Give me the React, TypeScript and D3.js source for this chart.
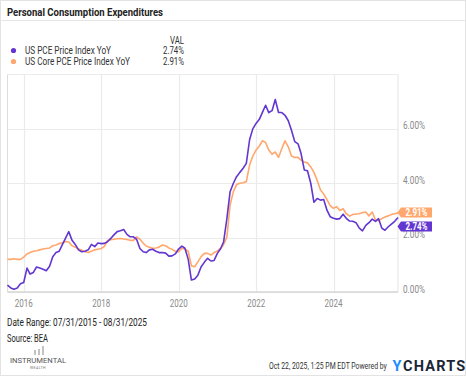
import React from "react";
import * as d3 from "d3";

const startDate = new Date(2015, 6, 31);
const endDate = new Date(2025, 7, 31);

const pce = [
  0.25, 0.15, 0.1, 0.15, 0.3, 0.35,
  0.88, 0.66, 0.72, 0.92, 0.88, 0.84,
  0.78, 0.95, 1.3, 1.45, 1.5, 1.75,
  2.0, 2.22, 1.9, 1.75, 1.55, 1.48,
  1.5, 1.55, 1.75, 1.67, 1.8, 1.78,
  1.79, 1.85, 1.97, 2.1, 2.22, 2.25,
  2.3, 2.12, 2.03, 2.03, 1.94, 1.6,
  1.48, 1.45, 1.55, 1.57, 1.5, 1.45,
  1.45, 1.43, 1.32, 1.33, 1.4, 1.58,
  1.69, 1.61, 1.2, 0.44, 0.48, 0.62,
  0.93, 1.1, 1.24, 1.14, 1.16, 1.42,
  1.6, 1.85, 2.71, 3.69, 4.0, 4.24,
  4.4, 4.55, 4.73, 5.6, 6.0, 6.2,
  6.35, 6.6, 6.87, 6.6, 6.67, 7.08,
  6.6, 6.6, 6.5, 6.3, 5.95, 5.53,
  5.45, 5.1, 4.49, 4.46, 4.0, 3.3,
  3.44, 3.38, 3.4, 3.01, 2.77, 2.71,
  2.68, 2.7, 2.86, 2.71, 2.61, 2.6,
  2.55, 2.35, 2.25, 2.45, 2.55, 2.68,
  2.6, 2.7, 2.35, 2.27, 2.4, 2.5,
  2.6, 2.74,
];

const corePce = [
  1.2, 1.2, 1.22, 1.2, 1.2, 1.28,
  1.4, 1.45, 1.5, 1.52, 1.55, 1.58,
  1.6, 1.62, 1.7, 1.73, 1.78, 1.81,
  1.86, 1.84, 1.7, 1.65, 1.58, 1.54,
  1.48, 1.45, 1.5, 1.55, 1.57, 1.6,
  1.68, 1.89, 1.92, 1.94, 1.96, 1.97,
  1.95, 1.93, 1.9, 1.9, 2.03, 1.94,
  1.8, 1.69, 1.65, 1.61, 1.62, 1.65,
  1.73, 1.7, 1.62, 1.57, 1.5, 1.48,
  1.61, 1.58, 1.5, 0.96, 0.93, 1.11,
  1.3, 1.42, 1.42, 1.36, 1.45, 1.51,
  1.6, 1.75, 2.03, 3.2, 3.69, 3.95,
  4.0, 4.02, 4.06, 4.67, 5.0, 5.22,
  5.37, 5.56, 5.5, 5.22, 5.07, 5.15,
  4.95, 5.28, 5.56, 5.34, 5.0, 4.95,
  4.95, 4.85, 4.78, 4.75, 4.6, 4.4,
  4.1, 3.75, 3.6, 3.4, 3.18, 3.08,
  3.14, 3.0, 3.06, 2.88, 2.79, 2.85,
  2.87, 2.88, 2.92, 2.94, 2.8, 2.94,
  2.65, 2.62, 2.7, 2.76, 2.8, 2.85,
  2.88, 2.91,
];

// month-end dates Jul 2015 .. Aug 2025
const months = pce.map((_, i) => new Date(2015, 7 + i, 0));

const yTicks = [0, 2, 4, 6];
const xTickYears = [2016, 2018, 2020, 2022, 2024];

const seriesNames = ["US PCE Price Index YoY", "US Core PCE Price Index YoY"];
const seriesColors = ["#6236d0", "#ffa76c"];

const FONT = "Roboto, 'Noto Sans', Arial, sans-serif";

export default function App() {
  const W = 466;
  const H = 376;
  const left = 7.5;
  const right = 398;
  const top = 74.5;
  const bottom = 292;

  const x = d3.scaleTime().domain([startDate, endDate]).range([left, right]);
  const y = d3.scaleLinear().domain([0, 8]).range([bottom, top]);

  const line = d3
    .line<number>()
    .x((_, i) => x(months[i]))
    .y((d) => y(d));

  const lastP = pce[pce.length - 1];
  const lastC = corePce[corePce.length - 1];
  const cY = y(lastC) - 0.5;
  const pY = Math.max(y(lastP), cY + 14);

  const label = (cy: number, color: string, text: string) => {
    const bx = 401;
    const bw = 31;
    const bh = 10;
    return (
      <g>
        <path
          d={`M${bx - 3.5},${cy} L${bx},${cy - bh / 2} L${bx + bw},${cy - bh / 2} L${bx + bw},${cy + bh / 2} L${bx},${cy + bh / 2} Z`}
          fill={color}
        />
        <text
          x={bx + bw / 2}
          y={cy + 3.6}
          textAnchor="middle"
          fontSize={10.5}
          fontWeight={700}
          fill="#fff"
          fontFamily={FONT}
          textLength={22}
          lengthAdjust="spacingAndGlyphs"
        >
          {text}
        </text>
      </g>
    );
  };

  const legendW = [86, 105];

  return (
    <div style={{ position: "fixed", left: 0, top: 0 }}>
      <svg width={W} height={H} style={{ display: "block", background: "#fff" }}>
        <rect x={0.5} y={0.5} width={W - 1} height={H - 1} fill="#fff" stroke="#e3e3e3" />
        <text x={7} y={16} fontSize={11.5} fontWeight={700} fill="#222" fontFamily={FONT}
          textLength={156} lengthAdjust="spacingAndGlyphs">
          Personal Consumption Expenditures
        </text>
        <line x1={0} x2={W} y1={20.5} y2={20.5} stroke="#e6e6e6" />

        {/* legend */}
        <text x={184} y={44} textAnchor="end" fontSize={10} fill="#333" fontFamily={FONT}
          textLength={14} lengthAdjust="spacingAndGlyphs">
          VAL
        </text>
        {seriesNames.map((n, i) => (
          <g key={n}>
            <circle cx={13.5} cy={50.5 + i * 11} r={2.6} fill={seriesColors[i]} />
            <text x={25} y={54 + i * 11} fontSize={10} fill="#333" fontFamily={FONT}
              textLength={legendW[i]} lengthAdjust="spacingAndGlyphs">
              {n}
            </text>
            <text x={184} y={54 + i * 11} textAnchor="end" fontSize={10} fill="#333" fontFamily={FONT}
              textLength={21} lengthAdjust="spacingAndGlyphs">
              {(i === 0 ? lastP : lastC).toFixed(2) + "%"}
            </text>
          </g>
        ))}

        {/* grid */}
        <line x1={left} x2={right} y1={top} y2={top} stroke="#ececec" />
        {yTicks.map((t) => (
          <line key={t} x1={left} x2={right} y1={Math.round(y(t)) + 0.5} y2={Math.round(y(t)) + 0.5} stroke="#ebebeb" strokeWidth={1.2} />
        ))}
        {xTickYears.map((yr) => {
          const xx = Math.round(x(new Date(yr, 0, 1))) + 0.5;
          return <line key={yr} x1={xx} x2={xx} y1={top} y2={bottom} stroke="#ebebeb" strokeWidth={1.2} />;
        })}
        <line x1={left} x2={left} y1={top} y2={bottom} stroke="#dcdcdc" />
        <line x1={right} x2={right} y1={top} y2={bottom} stroke="#e3e3e3" />
        <line x1={left} x2={right} y1={bottom} y2={bottom} stroke="#d6d6d6" strokeWidth={1.6} />

        {/* axis labels */}
        {yTicks.map((t) => (
          <text key={t} x={403} y={y(t) + 0.5} fontSize={10} fill="#8a8a8a" fontFamily={FONT}
            textLength={22} lengthAdjust="spacingAndGlyphs">
            {t.toFixed(2) + "%"}
          </text>
        ))}
        {xTickYears.map((yr) => (
          <text
            key={yr}
            x={x(new Date(yr, 0, 1))}
            y={307}
            textAnchor="middle"
            fontSize={10}
            fill="#8a8a8a"
            fontFamily={FONT}
            textLength={18}
            lengthAdjust="spacingAndGlyphs"
          >
            {yr}
          </text>
        ))}

        {/* series */}
        <path d={line(corePce) || ""} fill="none" stroke={seriesColors[1]} strokeWidth={1.6} strokeLinejoin="round" />
        <path d={line(pce) || ""} fill="none" stroke={seriesColors[0]} strokeWidth={1.6} strokeLinejoin="round" />

        {label(cY, seriesColors[1], lastC.toFixed(2) + "%")}
        {label(pY, seriesColors[0], lastP.toFixed(2) + "%")}

        {/* footer */}
        <text x={7} y={326} fontSize={10} fill="#222" fontFamily={FONT}
          textLength={140} lengthAdjust="spacingAndGlyphs">
          Date Range: 07/31/2015 - 08/31/2025
        </text>
        <text x={7} y={342} fontSize={10} fill="#222" fontFamily={FONT}
          textLength={41} lengthAdjust="spacingAndGlyphs">
          Source: BEA
        </text>
        <g stroke="#555" strokeWidth={0.7}>
          <line x1={35} x2={35} y1={350} y2={355} />
          <line x1={39} x2={39} y1={349} y2={355} />
          <line x1={43} x2={43} y1={346} y2={355} />
        </g>
        <text x={10} y={363} fontSize={7} fill="#555" fontFamily={FONT}
          textLength={56} lengthAdjust="spacingAndGlyphs">
          INSTRUMENTAL
        </text>
        <text x={38} y={369} textAnchor="middle" fontSize={3.5} letterSpacing={0.4} fill="#777" fontFamily={FONT}>
          WEALTH
        </text>
        <g transform="translate(269,369) scale(0.78,1)">
          <text x={0} y={0} fontSize={8.8} fill="#333" fontFamily={FONT}>
            Oct 22, 2025, 1:25 PM EDT Powered by
          </text>
        </g>
        <text x={392.5} y={371} fontSize={14.5} fontWeight={700} fill="#1b2536" fontFamily={FONT}
          letterSpacing={1.2}>
          <tspan fill="#1a8cff">Y</tspan>
          <tspan dx={0.5}>CHARTS</tspan>
        </text>
      </svg>
    </div>
  );
}
